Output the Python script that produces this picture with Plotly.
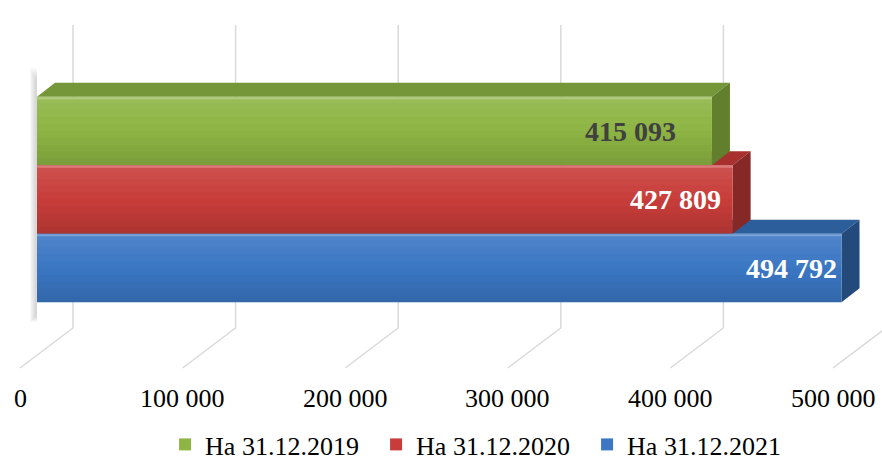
import plotly.graph_objects as go

# ---- data ----
series_names = ["На 31.12.2019", "На 31.12.2020", "На 31.12.2021"]
values = [415093, 427809, 494792]
value_labels = ["415 093", "427 809", "494 792"]
tick_values = [0, 100000, 200000, 300000, 400000, 500000]
tick_labels = ["0", "100 000", "200 000", "300 000", "400 000", "500 000"]

# ---- style ----
front_colors = ["#8db543", "#c83d3a", "#3b77c4"]
top_colors = ["#76963a", "#a8312f", "#2d5e9c"]
side_colors = ["#617f2d", "#862826", "#244a7c"]
label_colors = ["#404040", "#ffffff", "#ffffff"]
label_xshift = [-34, -10, -3]
row_pos = [2, 1, 0]
FONT = "Liberation Serif, Times New Roman, serif"

W, H = 882, 468
K = 162.6 / 100000          # px per value unit
X0_PX = 37                  # pixel of value 0 on the bar front face
ROW_PX = 68.5               # px per row
Y0_PX = 268                 # pixel of row 0 centre


def dx(px):
    return px / K


def ypx(p):
    return (Y0_PX - p) / ROW_PX


def dy(px):
    return px / ROW_PX


DEPTH_X, DEPTH_Y = 18, 14

fig = go.Figure()
shapes = []

# back wall grid + floor lines
for v in tick_values:
    xb = v + dx(36)
    xf = v - dx(17)
    shapes.append(dict(
        type="path", xref="x", yref="y", layer="below",
        path=f"M {xb},{ypx(25)} L {xb},{ypx(328)} L {xf},{ypx(368)}",
        line=dict(color="#d9d9d9", width=1.5),
    ))

# soft left shadow (layered translucent strips)
for j in range(6):
    shapes.append(dict(type="rect", xref="x", yref="y", layer="below",
                       x0=-dx(7 - j), x1=0, y0=ypx(322 - j), y1=ypx(68 + j * 2),
                       fillcolor="rgba(120,120,120,0.05)", line=dict(width=0)))

# 3D faces: draw lower rows first
for i in sorted(range(len(values)), key=lambda j: row_pos[j]):
    v = values[i]
    yb = row_pos[i] - 0.5
    yt = row_pos[i] + 0.5
    ox, oy = dx(DEPTH_X), dy(DEPTH_Y)
    shapes.append(dict(
        type="path", xref="x", yref="y", layer="below",
        path=f"M 0,{yt} L {ox},{yt + oy} L {v + ox},{yt + oy} L {v},{yt} Z",
        fillcolor=top_colors[i], line=dict(width=0),
    ))
    shapes.append(dict(
        type="path", xref="x", yref="y", layer="below",
        path=f"M {v},{yb} L {v + ox},{yb + oy} L {v + ox},{yt + oy} L {v},{yt} Z",
        fillcolor=side_colors[i], line=dict(width=0),
    ))

# subtle vertical shading on front faces (light top, darker bottom)
N_BANDS = 10
for i in range(len(values)):
    v = values[i]
    for b in range(N_BANDS):
        t = b / (N_BANDS - 1)          # 0 top -> 1 bottom
        y1 = row_pos[i] + 0.5 - b / N_BANDS
        y0 = y1 - 1 / N_BANDS
        if t < 0.5:
            col = f"rgba(255,255,255,{0.10 * (1 - 2 * t):.3f})"
        else:
            col = f"rgba(0,0,0,{0.12 * (2 * t - 1):.3f})"
        shapes.append(dict(type="rect", xref="x", yref="y", layer="above",
                           x0=0, x1=v, y0=y0, y1=y1,
                           fillcolor=col, line=dict(width=0)))
    # highlight at the top edge of the front face
    shapes.append(dict(type="line", xref="x", yref="y", layer="above",
                       x0=0, x1=v, y0=row_pos[i] + 0.5 - dy(1.5),
                       y1=row_pos[i] + 0.5 - dy(1.5),
                       line=dict(color="rgba(255,255,255,0.25)", width=2)))

for i, name in enumerate(series_names):
    fig.add_trace(go.Bar(
        x=[values[i]], y=[row_pos[i]], orientation="h", width=1,
        name=name, marker=dict(color=front_colors[i], line=dict(width=0)),
        hoverinfo="skip",
    ))

annotations = []
for v, t in zip(tick_values, tick_labels):
    annotations.append(dict(
        x=v - dx(17), y=ypx(398), xref="x", yref="y", text=t, showarrow=False,
        xanchor="center", yanchor="middle",
        font=dict(family=FONT, size=26, color="#000000"),
    ))
for i, t in enumerate(value_labels):
    annotations.append(dict(
        x=values[i], y=row_pos[i], xref="x", yref="y", text=t, showarrow=False,
        xanchor="right", yanchor="middle", xshift=label_xshift[i],
        font=dict(family=FONT, size=28, color=label_colors[i], weight="bold"),
    ))

fig.update_layout(
    width=W, height=H,
    margin=dict(l=0, r=0, t=0, b=0, autoexpand=False),
    paper_bgcolor="white", plot_bgcolor="white",
    barmode="overlay",
    showlegend=True,
    legend=dict(orientation="h", x=0.546, xanchor="center",
                y=0, yanchor="bottom",
                font=dict(family=FONT, size=26, color="#000000"),
                entrywidth=166, bgcolor="rgba(0,0,0,0)"),
    xaxis=dict(range=[-X0_PX / K, (W - X0_PX) / K], visible=False, fixedrange=True),
    yaxis=dict(range=[(Y0_PX - H) / ROW_PX, Y0_PX / ROW_PX], visible=False, fixedrange=True),
    shapes=shapes,
    annotations=annotations,
)

fig.write_html("out.html",
               config={"displayModeBar": False},
               post_script="document.body.style.margin='0';document.body.style.overflow='hidden';")
